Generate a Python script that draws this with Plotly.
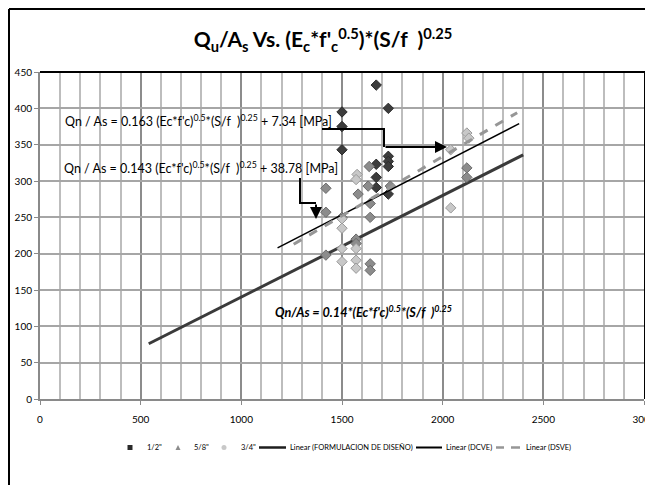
import plotly.graph_objects as go

# ---- data ----
half_x = [1500, 1500, 1500, 1670, 1670, 1670, 1670, 1730, 1730, 1730, 1730, 1730]
half_y = [395, 375, 343, 432, 323, 305, 291, 400, 334, 327, 320, 282]

five8_x = [1420, 1420, 1420, 1500, 1570, 1570, 1580, 1630, 1635, 1640, 1640, 1640, 1640, 1740, 2120, 2120]
five8_y = [290, 257, 198, 250, 220, 214, 282, 293, 320, 269, 250, 186, 177, 293, 318, 305]

three4_x = [1500, 1500, 1500, 1500, 1570, 1575, 1570, 1570, 1570, 2040, 2040, 2120, 2130]
three4_y = [248, 235, 207, 189, 207, 309, 191, 180, 302, 343, 263, 366, 359]

form_x = [540, 2400]
form_y = [76, 336]
dcve_x = [1180, 2380]
dcve_y = [208, 379]
dsve_x = [1260, 2370]
dsve_y = [213, 394]

x_ticks = [0, 500, 1000, 1500, 2000, 2500, 3000]
y_ticks = [0, 50, 100, 150, 200, 250, 300, 350, 400, 450]

legend_names = ['1/2"', '5/8"', '3/4"', "Linear (FORMULACION DE DISEÑO)",
                "Linear (DCVE)", "Linear (DSVE)"]

FONT = "Lato"
OFF = 8  # page body margin
W, H = 653 - OFF, 485 - OFF
ML, MT = 40 - OFF, 72 - OFF
MR = W - (644 - OFF)
MB = H - (399 - OFF)
PW, PH = W - ML - MR, H - MT - MB


def px(xp):  # reference-screen x -> paper
    return (xp - OFF - ML) / PW


def py(yp):  # reference-screen y -> paper
    return (H - MB - (yp - OFF)) / PH


fig = go.Figure()

# trend lines (drawn under the points' top layer order as in reference)
fig.add_trace(go.Scatter(x=form_x, y=form_y, mode="lines", name=legend_names[3],
                         line=dict(color="#3a3a3a", width=3)))

# scatter points
fig.add_trace(go.Scatter(x=half_x, y=half_y, mode="markers", name=legend_names[0],
                         marker=dict(symbol="diamond", size=8, color="#3c3c3c",
                                     line=dict(color="#2a2a2a", width=1))))
fig.add_trace(go.Scatter(x=five8_x, y=five8_y, mode="markers", name=legend_names[1],
                         marker=dict(symbol="diamond", size=8, color="#8c8c8c",
                                     line=dict(color="#6a6a6a", width=1))))
fig.add_trace(go.Scatter(x=three4_x, y=three4_y, mode="markers", name=legend_names[2],
                         marker=dict(symbol="diamond", size=8, color="#c8c8c8",
                                     line=dict(color="#9a9a9a", width=1))))

fig.add_trace(go.Scatter(x=dcve_x, y=dcve_y, mode="lines", name=legend_names[4],
                         line=dict(color="#000000", width=1.5)))
fig.add_trace(go.Scatter(x=dsve_x, y=dsve_y, mode="lines", name=legend_names[5],
                         line=dict(color="#969696", width=3, dash="dash")))

annotations = [
    dict(x=px(63), y=py(120), xref="paper", yref="paper", xanchor="left", yanchor="middle",
         showarrow=False,
         text="Qn / As = 0.163 (Ec*f'c)<sup>0.5</sup>*(S/f  )<sup>0.25</sup> + 7.34 [MPa]",
         font=dict(family=FONT, size=12.5, color="#000")),
    dict(x=px(62), y=py(167), xref="paper", yref="paper", xanchor="left", yanchor="middle",
         showarrow=False,
         text="Qn / As = 0.143 (Ec*f'c)<sup>0.5</sup>*(S/f  )<sup>0.25</sup> + 38.78 [MPa]",
         font=dict(family=FONT, size=12.5, color="#000")),
    dict(x=px(273), y=py(311), xref="paper", yref="paper", xanchor="left", yanchor="middle",
         showarrow=False,
         text="<b><i>Qn/As = 0.14*(Ec*f'c)<sup>0.5</sup>*(S/f  )<sup>0.25</sup></i></b>",
         font=dict(family=FONT, size=12.7, color="#000")),
    # arrow heads
    dict(x=px(447), y=py(147), ax=384 - 447, ay=0, xref="paper", yref="paper",
         axref="pixel", ayref="pixel",
         showarrow=True, arrowhead=2, arrowsize=1.2, arrowwidth=2, arrowcolor="#000", text=""),
    dict(x=px(316), y=py(219), ax=0, ay=203 - 219, xref="paper", yref="paper",
         axref="pixel", ayref="pixel",
         showarrow=True, arrowhead=2, arrowsize=1.2, arrowwidth=2, arrowcolor="#000", text=""),
]

shapes = [
    # arrow connectors
    dict(type="path", xref="paper", yref="paper",
         path=f"M {px(322)} {py(129)} L {px(384)} {py(129)} L {px(384)} {py(147)}",
         line=dict(color="#000", width=2)),
    dict(type="path", xref="paper", yref="paper",
         path=f"M {px(300)} {py(178)} L {px(300)} {py(203)} L {px(316)} {py(203)}",
         line=dict(color="#000", width=2)),
    # plot-area black border (top & right)
    dict(type="line", xref="paper", yref="paper", x0=0, x1=px(645), y0=1, y1=1,
         line=dict(color="#000", width=2)),
    dict(type="line", xref="paper", yref="paper", x0=px(645), x1=px(645), y0=0, y1=1,
         line=dict(color="#000", width=2)),
    # outer chart frame (left & top), as close to the edge as the page allows
    dict(type="line", xref="paper", yref="paper", x0=px(9), x1=px(9), y0=py(490), y1=py(9),
         line=dict(color="#000", width=2)),
    dict(type="line", xref="paper", yref="paper", x0=px(9), x1=px(660), y0=py(9), y1=py(9),
         line=dict(color="#000", width=2)),
]

# ---- legend drawn compactly, like the reference ----
LY = 447.5
shapes += [
    dict(type="rect", xref="paper", yref="paper", x0=px(127.5), x1=px(132.5),
         y0=py(LY + 2.5), y1=py(LY - 2.5), fillcolor="#2a2a2a", line=dict(width=0)),
    dict(type="path", xref="paper", yref="paper",
         path=f"M {px(175.5)} {py(LY + 2.5)} L {px(180.5)} {py(LY + 2.5)} L {px(178)} {py(LY - 2.5)} Z",
         fillcolor="#8c8c8c", line=dict(width=0)),
    dict(type="circle", xref="paper", yref="paper", x0=px(221.5), x1=px(226.5),
         y0=py(LY + 2.5), y1=py(LY - 2.5), fillcolor="#c8c8c8", line=dict(width=0)),
    dict(type="line", xref="paper", yref="paper", x0=px(259), x1=px(286), y0=py(LY), y1=py(LY),
         line=dict(color="#1e1e1e", width=2.5)),
    dict(type="line", xref="paper", yref="paper", x0=px(416), x1=px(442), y0=py(LY), y1=py(LY),
         line=dict(color="#000", width=2)),
    dict(type="line", xref="paper", yref="paper", x0=px(496), x1=px(504), y0=py(LY), y1=py(LY),
         line=dict(color="#969696", width=2.5)),
    dict(type="line", xref="paper", yref="paper", x0=px(511), x1=px(520), y0=py(LY), y1=py(LY),
         line=dict(color="#969696", width=2.5)),
]
legend_text_x = [145, 192, 239, 288, 444, 524]
for name, tx in zip(legend_names, legend_text_x):
    annotations.append(dict(x=px(tx), y=py(LY), xref="paper", yref="paper",
                            xanchor="left", yanchor="middle", showarrow=False,
                            text=name, font=dict(family=FONT, size=7.5, color="#000")))

fig.update_layout(
    width=W, height=H,
    margin=dict(l=ML, r=MR, t=MT, b=MB, autoexpand=False),
    paper_bgcolor="white", plot_bgcolor="white",
    showlegend=False,
    font=dict(family=FONT, size=10, color="#000"),
    title=dict(
        text="<b>Q<sub>u</sub>/A<sub>s</sub> Vs. (E<sub>c</sub>*f'<sub>c</sub><sup>0.5</sup>)*(S/f  )<sup>0.25</sup></b>",
        x=(323 - OFF) / W, xanchor="center", y=1 - (40 - OFF) / H, yanchor="middle",
        font=dict(family=FONT, size=21, color="#000")),
    xaxis=dict(range=[0, 3000], tickvals=x_ticks, ticktext=[str(v) for v in x_ticks],
               showgrid=True, gridcolor="#8c8c8c", gridwidth=2,
               minor=dict(dtick=100, showgrid=True, gridcolor="#bdbdbd", gridwidth=2),
               showline=True, linecolor="#8a8a8a", linewidth=2,
               ticks="outside", ticklen=4, tickcolor="#8a8a8a",
               zeroline=False, tickfont=dict(size=10), automargin=False,
               ticklabeloverflow="allow", ticklabelstandoff=6),
    yaxis=dict(range=[0, 450], tickvals=y_ticks, ticktext=[str(v) for v in y_ticks],
               showgrid=True, gridcolor="#a6a6a6", gridwidth=2,
               showline=True, linecolor="#8a8a8a", linewidth=2,
               ticks="outside", ticklen=4, tickcolor="#8a8a8a",
               zeroline=False, tickfont=dict(size=10), automargin=False,
               ticklabeloverflow="allow"),
    annotations=annotations,
    shapes=shapes,
)

fig.write_html("out.html")
